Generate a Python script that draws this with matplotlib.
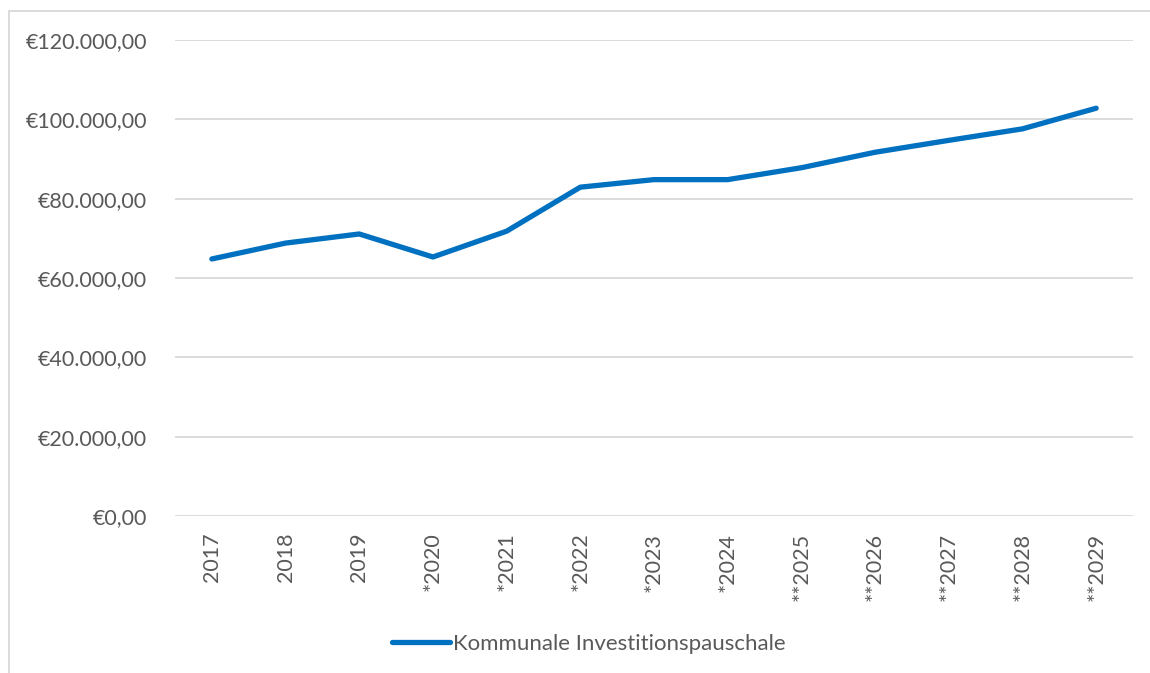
import matplotlib.pyplot as plt
from matplotlib.ticker import FuncFormatter
from matplotlib.lines import Line2D

# values
years = ['2017', '2018', '2019', '*2020', '*2021', '*2022', '*2023', '*2024',
         '**2025', '**2026', '**2027', '**2028', '**2029']
pauschale = [64800, 68800, 71100, 65300, 71800, 82900, 84800, 84800,
             87800, 91700, 94700, 97600, 102800]
series_label = 'Kommunale Investitionspauschale'

plt.rcParams['font.family'] = ['Lato', 'DejaVu Sans']

fig = plt.figure(figsize=(11.5, 6.73), dpi=100)
ax = fig.add_axes([175 / 1150, 1 - 516 / 673, (1133 - 175) / 1150, (516 - 40) / 673])

x = list(range(len(years)))
line, = ax.plot(x, pauschale, color='#0070C0', linewidth=3.8,
                solid_capstyle='round', solid_joinstyle='round', label=series_label)

ax.set_xlim(-0.5, len(years) - 0.5)
ax.set_ylim(0, 120000)
ax.set_yticks(range(0, 120001, 20000))


def euro(v, pos):
    s = f'{v:,.2f}'.replace(',', 'X').replace('.', ',').replace('X', '.')
    return '€' + s


ax.yaxis.set_major_formatter(FuncFormatter(euro))
ax.set_xticks(x)
ax.set_xticklabels(years, rotation=90)
ax.tick_params(axis='both', length=0, colors='#595959', labelsize=15.5)
ax.tick_params(axis='y', pad=20)
ax.tick_params(axis='x', pad=12)
ax.grid(axis='y', color='#D9D9D9', linewidth=1.3)
ax.set_axisbelow(True)
for sp in ax.spines.values():
    sp.set_visible(False)

# chart frame (only left and top edges are in view)
fx, fy = 8.5 / 1150, 1 - 10.5 / 673
fig.add_artist(Line2D([fx, fx], [0, fy], transform=fig.transFigure,
                      color='#D9D9D9', linewidth=1.3))
fig.add_artist(Line2D([fx, 1], [fy, fy], transform=fig.transFigure,
                      color='#D9D9D9', linewidth=1.3))

leg = fig.legend(handles=[line], loc='center', bbox_to_anchor=(589 / 1150, 1 - 644 / 673),
                 frameon=False, fontsize=16, handlelength=2.6, handletextpad=0.15)
for t in leg.get_texts():
    t.set_color('#595959')

fig.savefig('out.png', dpi=100)
